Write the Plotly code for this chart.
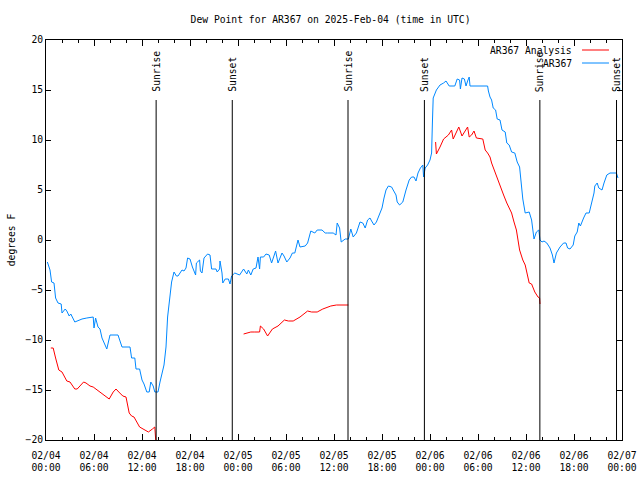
import pandas as pd
import plotly.graph_objects as go

# ---- data (hours since 2025-02-04 00:00 UTC, degrees F) ----
obs_hours = [0.17, 0.5, 0.7, 1.0, 1.2, 1.5, 1.9, 2.0, 2.4, 2.6, 2.9, 3.1, 3.6, 4.5, 5.1, 5.9, 6.0, 6.2,
             6.5, 6.75, 7.0, 7.3, 7.6, 8.0, 9.0, 9.5, 10.5, 10.7, 11.1, 11.25, 11.7, 12.0, 12.25, 12.6,
             12.9, 13.1, 13.4, 13.6, 14.0, 14.25, 14.6, 14.75, 15.0, 15.2, 15.4, 15.7, 16.0, 16.3, 16.5,
             17.0, 17.25, 17.5, 17.7, 18.0, 18.3, 18.7, 18.8, 19.2, 19.3, 19.5, 19.75, 20.2, 20.5, 20.7,
             21.25, 21.4, 21.7, 21.75, 22.0, 22.1, 22.4, 22.8, 23.0, 23.2, 23.6, 24.2, 24.7, 25.1, 25.3,
             25.6, 25.9, 26.25, 26.5, 26.7, 26.8, 27.2, 27.5, 27.9, 28.2, 28.4, 28.7, 29.0, 29.5, 29.75,
             30.1, 30.5, 30.8, 31.1, 31.3, 31.5, 31.75, 32.4, 32.7, 33.1, 33.6, 33.9, 34.5, 34.9, 35.2,
             35.9, 36.25, 36.4, 36.7, 36.9, 37.4, 37.8, 38.1, 38.4, 38.8, 39.25, 39.6, 39.9, 40.2, 40.5,
             40.7, 41.0, 41.3, 41.7, 42.0, 42.25, 42.5, 42.8, 43.2, 43.4, 43.75, 43.9, 44.2, 44.6, 44.75,
             45.0, 45.4, 45.7, 46.0, 46.25, 46.5, 46.8, 47.1, 47.2, 47.4, 47.7, 48.0, 48.2, 48.3, 48.4,
             48.8, 49.25, 49.7, 50.0, 50.4, 51.1, 51.4, 51.7, 51.8, 52.0, 52.3, 52.5, 52.7, 52.9, 53.0,
             55.2, 55.3, 55.5, 55.7, 55.9, 56.2, 56.4, 56.75, 57.0, 57.4, 57.6, 57.9, 58.2, 58.6, 58.9,
             59.2, 59.4, 59.6, 59.9, 60.4, 60.7, 61.0, 61.3, 61.6, 61.75, 62.0, 62.25, 62.6, 63.0, 63.3,
             63.5, 63.8, 64.25, 64.7, 65.0, 65.2, 65.5, 65.9, 66.1, 66.4, 66.6, 66.8, 67.2, 67.5, 67.9,
             68.2, 68.5, 68.6, 68.9, 69.1, 69.5, 69.75, 70.1, 70.5, 71.3, 71.5]
obs_values = [-2.2, -3.0, -4.2, -4.3, -5.8, -6.3, -6.4, -7.3, -6.9, -7.1, -7.6, -7.4, -8.2, -7.9, -7.8,
              -7.7, -8.8, -7.8, -8.7, -8.9, -9.8, -10.3, -10.9, -9.5, -9.5, -10.7, -10.7, -11.8, -11.8,
              -12.9, -12.9, -14.0, -14.4, -15.2, -15.2, -14.2, -14.6, -15.2, -15.2, -14.2, -13.2, -12.5,
              -10.7, -7.7, -6.3, -4.2, -3.2, -3.6, -3.6, -3.0, -3.1, -2.8, -1.8, -1.9, -2.7, -3.5, -2.3,
              -2.0, -3.1, -3.3, -1.8, -1.4, -1.5, -2.9, -2.9, -3.2, -2.9, -2.1, -3.3, -4.3, -3.9, -3.9,
              -4.4, -3.6, -3.3, -3.5, -2.9, -3.4, -3.0, -3.5, -2.9, -2.8, -1.7, -2.9, -1.7, -1.7, -1.4,
              -1.5, -2.3, -1.8, -1.1, -2.3, -1.3, -1.6, -2.2, -1.8, -1.3, -1.3, -0.7, 0.0, -0.7, -0.6,
              -0.3, 0.9, 0.7, 1.0, 1.0, 0.7, 0.7, 0.7, 0.5, 1.7, 1.2, -0.2, 0.1, 0.1, 1.1, 0.3, 0.7, 1.8,
              1.7, 1.2, 2.0, 2.2, 1.9, 1.5, 1.8, 2.5, 3.2, 4.2, 5.0, 5.4, 5.3, 5.0, 4.5, 3.8, 3.5, 3.8,
              4.3, 5.0, 6.0, 6.3, 6.3, 5.9, 6.7, 7.2, 7.5, 6.3, 7.2, 7.5, 8.0, 8.7, 11.7, 14.2, 15.0,
              15.5, 15.7, 15.9, 15.4, 15.4, 16.1, 16.0, 15.1, 16.2, 16.1, 15.4, 15.9, 16.3, 15.4, 15.4,
              14.9, 14.3, 14.0, 13.2, 13.0, 12.1, 12.0, 11.0, 10.8, 9.7, 9.5, 8.8, 8.7, 7.8, 7.3, 5.5,
              4.1, 2.7, 2.8, 2.0, 0.1, 0.8, 1.0, 0.0, -0.2, -0.1, -0.3, -0.8, -1.5, -2.3, -1.3, -0.7,
              -0.3, -0.3, -0.8, -0.9, -0.5, 0.4, 0.8, 1.7, 1.4, 2.2, 2.7, 2.7, 3.7, 4.7, 5.4, 5.7, 5.2,
              5.0, 5.7, 6.5, 6.7, 6.7, 6.2]

ana_hours_1 = [0.6, 0.9, 1.2, 1.6, 2.0, 2.6, 3.0, 3.6, 3.9, 4.7, 5.0, 5.5, 5.9, 6.7, 6.9, 7.6, 7.9, 8.4,
               8.75, 9.1, 9.6, 10.0, 10.4, 10.7, 11.0, 11.7, 12.1, 12.6, 12.8, 13.3, 13.6, 13.8]
ana_values_1 = [-10.8, -10.8, -11.8, -13.0, -13.2, -14.1, -14.2, -14.9, -14.9, -14.2, -14.3, -14.6, -14.7,
                -15.2, -15.3, -15.8, -15.9, -15.2, -14.9, -15.2, -15.6, -15.7, -17.3, -17.6, -17.7, -18.7,
                -18.9, -19.1, -19.2, -18.9, -18.7, -21.0]
ana_hours_2 = [24.7, 25.6, 26.1, 26.7, 26.8, 27.2, 27.7, 28.3, 29.0, 29.8, 30.3, 30.9, 31.75, 32.7, 33.2,
               33.9, 34.6, 35.6, 36.3, 37.8]
ana_values_2 = [-9.4, -9.2, -9.2, -9.2, -8.6, -8.9, -9.6, -8.9, -8.6, -8.0, -8.1, -8.1, -7.7, -7.1, -7.2,
                -7.2, -6.9, -6.6, -6.5, -6.5]
ana_hours_3 = [48.7, 48.8, 49.25, 49.7, 50.3, 50.7, 50.9, 51.3, 51.6, 52.0, 52.4, 52.7, 52.9, 53.2, 53.5,
               53.8, 54.6, 54.75, 54.9, 55.2, 55.5, 55.7, 56.1, 56.5, 56.8, 57.2, 57.6, 57.9, 58.2, 58.5,
               58.8, 59.2, 59.6, 59.9, 60.2, 60.4, 60.7, 61.1, 61.5, 61.7, 61.75]
ana_values_3 = [9.8, 8.6, 9.3, 10.1, 10.5, 11.0, 10.1, 10.8, 11.3, 10.4, 10.9, 11.3, 10.3, 10.5, 10.9,
                10.2, 10.1, 9.5, 9.0, 8.7, 8.3, 7.7, 6.8, 6.0, 5.3, 4.5, 3.7, 3.2, 2.7, 1.8, 1.0, -1.0,
                -2.0, -2.5, -3.7, -4.3, -4.4, -5.2, -5.7, -5.8, -6.4]

sun_events = ["2025-02-04 13:46", "2025-02-04 23:17", "2025-02-05 13:45",
              "2025-02-05 23:18", "2025-02-06 13:44", "2025-02-06 23:19"]
sun_labels = ["Sunrise", "Sunset", "Sunrise", "Sunset", "Sunrise", "Sunset"]

base = pd.Timestamp("2025-02-04 00:00")


def to_time(hours):
    return list(base + pd.to_timedelta(hours, unit="h"))


ana_x = to_time(ana_hours_1) + [None] + to_time(ana_hours_2) + [None] + to_time(ana_hours_3)
ana_y = ana_values_1 + [None] + ana_values_2 + [None] + ana_values_3

FONT = "DejaVu Sans Mono"
FS = 9.7
RED = "#ff0000"
BLUE = "#0088ff"

fig = go.Figure()
fig.add_trace(go.Scatter(x=to_time(obs_hours), y=obs_values, mode="lines", name="AR367",
                         line=dict(color=BLUE, width=1), connectgaps=False))
fig.add_trace(go.Scatter(x=ana_x, y=ana_y, mode="lines", name="AR367 Analysis",
                         line=dict(color=RED, width=1), connectgaps=False))

for t, lab in zip(sun_events, sun_labels):
    fig.add_shape(type="line", xref="x", yref="y", x0=t, x1=t, y0=-20, y1=14,
                  line=dict(color="black", width=1))
    fig.add_annotation(x=t, y=14.6, xref="x", yref="y", text=lab, textangle=-90,
                       showarrow=False, xanchor="center", yanchor="bottom",
                       font=dict(family=FONT, size=FS, color="black"))

# gnuplot-style key (top right, text right-aligned, sample to the right)
legend_rows = [("AR367 Analysis", RED, 0.975), ("AR367", BLUE, 0.9425)]
for text, col, yy in legend_rows:
    fig.add_annotation(x=0.9167, y=yy, xref="paper", yref="paper", text=text, showarrow=False,
                       xanchor="right", yanchor="middle",
                       font=dict(family=FONT, size=FS, color="black"))
    fig.add_shape(type="line", xref="paper", yref="paper", x0=0.9306, x1=0.9774, y0=yy, y1=yy,
                  line=dict(color=col, width=1))

fig.update_layout(
    width=640, height=480,
    margin=dict(l=46, r=18, t=40, b=40, autoexpand=False),
    paper_bgcolor="white", plot_bgcolor="white",
    showlegend=False,
    font=dict(family=FONT, size=FS, color="black"),
    title=dict(text="Dew Point for AR367 on 2025-Feb-04 (time in UTC)",
               x=0.494, xref="paper", xanchor="center",
               y=1 - 20 / 480, yref="container", yanchor="middle",
               font=dict(family=FONT, size=FS, color="black")),
)
fig.update_xaxes(
    type="date", range=["2025-02-04 00:00", "2025-02-07 00:00"], automargin=False,
    tick0="2025-02-04 00:00", dtick=6 * 3600 * 1000, tickformat="%m/%d<br>%H:%M",
    ticks="inside", ticklen=6, tickcolor="black", mirror="ticks", ticklabelstandoff=6,
    showline=True, linecolor="black", linewidth=1, showgrid=False, zeroline=False,
    minor=dict(dtick=2 * 3600 * 1000, ticks="inside", ticklen=3, tickcolor="black", showgrid=False),
    tickfont=dict(family=FONT, size=FS, color="black"),
)
fig.update_yaxes(
    range=[-20, 20], dtick=5, tick0=0, automargin=False,
    ticks="inside", ticklen=5, tickcolor="black", mirror="ticks",
    showline=True, linecolor="black", linewidth=1, showgrid=False, zeroline=False,
    tickfont=dict(family=FONT, size=FS, color="black"),
    title=dict(text="degrees F", font=dict(family=FONT, size=FS, color="black"), standoff=8),
)

fig.write_html("out.html", post_script="document.body.style.margin='0';",
               config={"displayModeBar": False})
